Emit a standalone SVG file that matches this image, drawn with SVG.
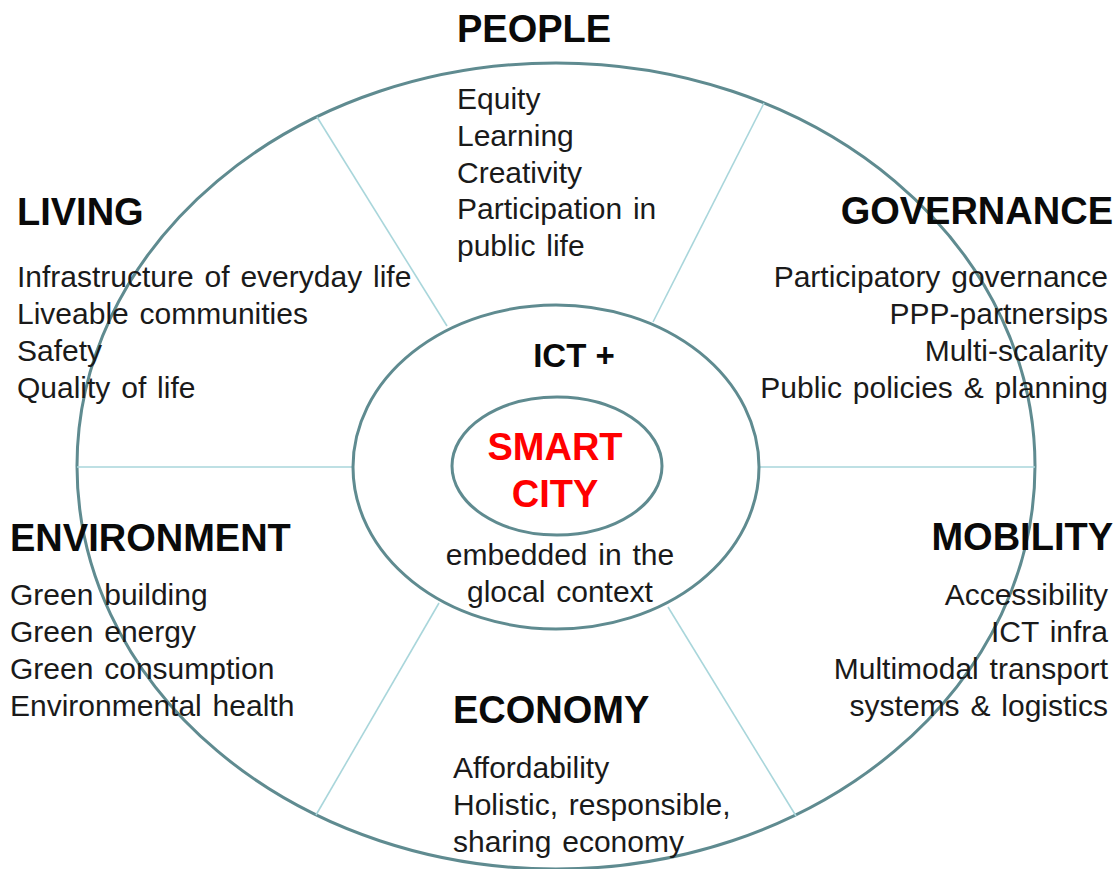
<svg xmlns="http://www.w3.org/2000/svg" width="1118" height="869" viewBox="0 0 1118 869">
<style>
.ring{fill:none;stroke:#5f8b90;stroke-width:3}
.spoke{stroke:#a9d6db;stroke-width:1.6;fill:none}
.h{font-family:"Liberation Sans",Arial,sans-serif;font-weight:bold;font-size:38px;fill:#0a0a0a}
.b{font-family:"Liberation Sans",Arial,sans-serif;font-size:30px;fill:#1a1a1a;word-spacing:2.5px}
.r{text-anchor:end}
.c{text-anchor:middle}
.red{font-family:"Liberation Sans",Arial,sans-serif;font-weight:bold;font-size:38px;fill:#ff0000;text-anchor:middle}
</style>
<rect width="1118" height="869" fill="#ffffff"/>
<g id="rings">
<ellipse class="ring" cx="556" cy="466" rx="479" ry="403"/>
</g>
<g id="connectors">
<line class="spoke" x1="317" y1="117" x2="447" y2="326"/>
<line class="spoke" x1="764" y1="103" x2="653" y2="322"/>
<line class="spoke" x1="77" y1="467" x2="354" y2="467"/>
<line class="spoke" x1="760" y1="467" x2="1035" y2="467"/>
<line class="spoke" x1="439" y1="603" x2="316" y2="815"/>
<line class="spoke" x1="668" y1="607" x2="796" y2="816"/>
</g>
<g id="ict">
<ellipse class="ring" cx="556" cy="467" rx="203" ry="162"/>
<text class="h c" x="574" y="367" style="font-size:33px">ICT +</text>
<text class="b c" x="560" y="565">embedded in the</text>
<text class="b c" x="560" y="602">glocal context</text>
</g>
<g id="smart-city">
<ellipse class="ring" cx="557" cy="466" rx="105" ry="69"/>
<text class="red" x="555" y="460">SMART</text>
<text class="red" x="555" y="507">CITY</text>
</g>
<g id="people">
<text class="h" x="457" y="42">PEOPLE</text>
<text class="b" x="457" y="109">Equity</text>
<text class="b" x="457" y="146">Learning</text>
<text class="b" x="457" y="183">Creativity</text>
<text class="b" x="457" y="219">Participation in</text>
<text class="b" x="457" y="256">public life</text>
</g>
<g id="living">
<text class="h" x="17" y="225">LIVING</text>
<text class="b" x="17" y="287">Infrastructure of everyday life</text>
<text class="b" x="17" y="324">Liveable communities</text>
<text class="b" x="17" y="361">Safety</text>
<text class="b" x="17" y="398">Quality of life</text>
</g>
<g id="governance">
<text class="h r" x="1113" y="224">GOVERNANCE</text>
<text class="b r" x="1108" y="287">Participatory governance</text>
<text class="b r" x="1108" y="324">PPP-partnersips</text>
<text class="b r" x="1108" y="361">Multi-scalarity</text>
<text class="b r" x="1108" y="398">Public policies &amp; planning</text>
</g>
<g id="environment">
<text class="h" x="10" y="551">ENVIRONMENT</text>
<text class="b" x="10" y="605">Green building</text>
<text class="b" x="10" y="642">Green energy</text>
<text class="b" x="10" y="679">Green consumption</text>
<text class="b" x="10" y="716">Environmental health</text>
</g>
<g id="mobility">
<text class="h r" x="1113" y="550">MOBILITY</text>
<text class="b r" x="1108" y="605">Accessibility</text>
<text class="b r" x="1108" y="642">ICT infra</text>
<text class="b r" x="1108" y="679">Multimodal transport</text>
<text class="b r" x="1108" y="716">systems &amp; logistics</text>
</g>
<g id="economy">
<text class="h" x="453" y="723">ECONOMY</text>
<text class="b" x="453" y="778">Affordability</text>
<text class="b" x="453" y="815">Holistic, responsible,</text>
<text class="b" x="453" y="852">sharing economy</text>
</g>
</svg>
